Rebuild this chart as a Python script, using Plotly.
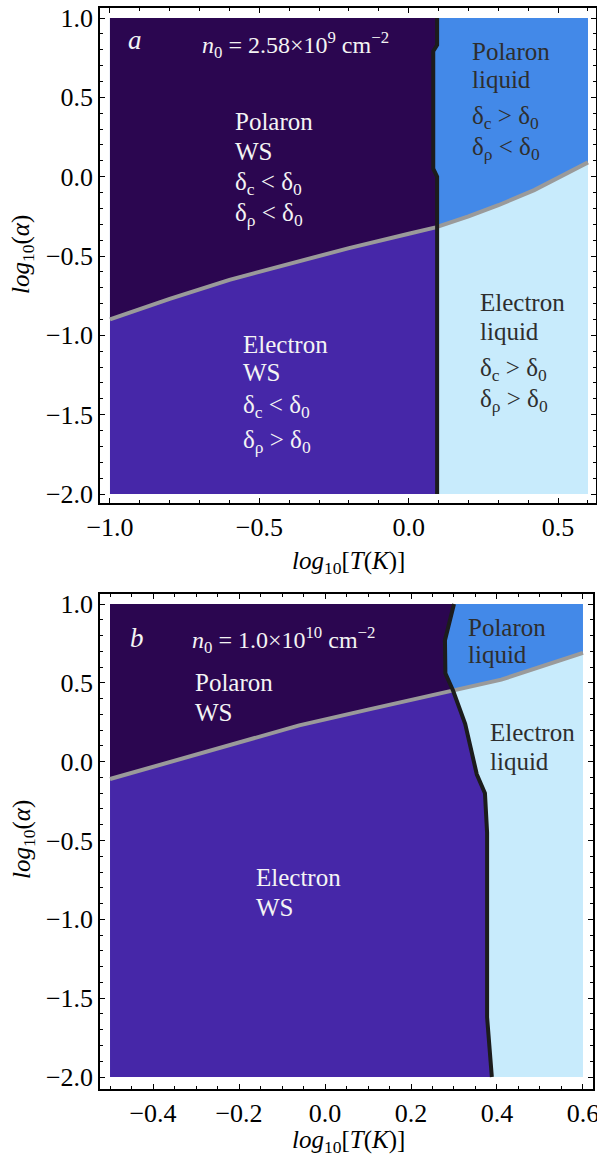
import numpy as np
import plotly.graph_objects as go

# ---------------- data ----------------
# Panel a  (n0 = 2.58e9 cm^-2)
gray_a_x = [-1.0, -0.8, -0.6, -0.4, -0.2, 0.0, 0.09, 0.2, 0.3, 0.42, 0.53, 0.6]
gray_a_y = [-0.90, -0.77, -0.65, -0.55, -0.45, -0.36, -0.32, -0.25, -0.18, -0.085, 0.02, 0.09]
black_a_y = [-2.0, 0.0, 0.05, 0.79, 0.83, 1.0]
black_a_x = [0.095, 0.095, 0.082, 0.082, 0.095, 0.095]

# Panel b  (n0 = 1.0e10 cm^-2)
gray_b_x = [-0.5, -0.41, -0.2, -0.06, 0.1, 0.3, 0.41, 0.6]
gray_b_y = [-0.11, -0.04, 0.12, 0.23, 0.33, 0.45, 0.52, 0.69]
black_b_y = [-2.0, -1.62, -0.45, -0.2, -0.08, 0.24, 0.45, 0.56, 0.77, 1.0]
black_b_x = [0.388, 0.377, 0.377, 0.372, 0.353, 0.326, 0.298, 0.28, 0.279, 0.30]

ext_a = (-1.0, 0.6, -2.0, 1.0)
ext_b = (-0.5, 0.6, -2.0, 1.0)

xticks_a = [-1.0, -0.5, 0.0, 0.5]
xticks_b = [-0.4, -0.2, 0.0, 0.2, 0.4, 0.6]
yticks = [-2.0, -1.5, -1.0, -0.5, 0.0, 0.5, 1.0]

# ---------------- style ----------------
C_PWS = "#2b0650"
C_EWS = "#4627a8"
C_PL = "#4389e8"
C_EL = "#c8ebfc"
C_GRAY = "#9a9a9a"
C_BLACK = "#1c1c1c"
FONT = "Liberation Serif"

fig = go.Figure()


def add_regions(gx, gy, bx, by, ext, xa, ya):
    xmin, xmax, ymin, ymax = ext
    xs = np.linspace(xmin, xmax, 600)
    ygs = np.interp(xs, gx, gy)
    ys = np.linspace(ymin, ymax, 600)
    xbs = np.interp(ys, by, bx)

    def poly(px, py, color):
        fig.add_trace(go.Scatter(x=list(px), y=list(py), fill="toself", fillcolor=color,
                                 mode="lines", line=dict(width=0, color=color),
                                 hoverinfo="skip", showlegend=False, xaxis=xa, yaxis=ya))

    # electron liquid: full rectangle
    poly([xmin, xmax, xmax, xmin, xmin], [ymin, ymin, ymax, ymax, ymin], C_EL)
    # polaron liquid: above gray line
    poly(list(xs) + [xmax, xmin], list(ygs) + [ymax, ymax], C_PL)
    # electron WS: left of black line
    poly([xmin] + list(xbs) + [xmin], [ymin] + list(ys) + [ymax], C_EWS)
    # polaron WS: left of black and above gray
    m1 = ys >= np.interp(xbs, gx, gy)
    bpx = xbs[m1][::-1]
    bpy = ys[m1][::-1]
    m2 = xs <= np.interp(ygs, by, bx)
    gpx = xs[m2][::-1]
    gpy = ygs[m2][::-1]
    poly([xmin] + list(bpx) + list(gpx) + [xmin], [ymax] + list(bpy) + list(gpy) + [ymax], C_PWS)


def add_lines(gx, gy, bx, by, xa, ya):
    fig.add_trace(go.Scatter(x=gx, y=gy, mode="lines", line=dict(color=C_GRAY, width=4),
                             hoverinfo="skip", showlegend=False, xaxis=xa, yaxis=ya))
    fig.add_trace(go.Scatter(x=bx, y=by, mode="lines", line=dict(color=C_BLACK, width=4),
                             hoverinfo="skip", showlegend=False, xaxis=xa, yaxis=ya))


add_regions(gray_a_x, gray_a_y, black_a_x, black_a_y, ext_a, "x", "y")
add_lines(gray_a_x, gray_a_y, black_a_x, black_a_y, "x", "y")
add_regions(gray_b_x, gray_b_y, black_b_x, black_b_y, ext_b, "x2", "y2")
add_lines(gray_b_x, gray_b_y, black_b_x, black_b_y, "x2", "y2")

W, H = 597, 1157


def px2x(p):
    return p / W


def px2y(p):
    return 1 - p / H


axis_common = dict(showline=True, mirror="ticks", linecolor="black", linewidth=1.5,
                   ticks="inside", ticklen=5, tickwidth=1, tickcolor="black",
                   showgrid=False, zeroline=False, tickformat=".1f", automargin=False,
                   ticklabeloverflow="allow",
                   tickfont=dict(family=FONT, size=26, color="black"))

fig.update_layout(
    width=W, height=H, margin=dict(l=0, r=0, t=0, b=0, autoexpand=False),
    paper_bgcolor="white", plot_bgcolor="white", showlegend=False,
    xaxis=dict(domain=[px2x(100), px2x(596)], range=[-1.0334, 0.6268], anchor="y",
               tickvals=xticks_a, minor=dict(dtick=0.1, tick0=0, ticks="inside", ticklen=3),
               **axis_common),
    yaxis=dict(domain=[px2y(503), px2y(8)], range=[-2.0567, 1.063], anchor="x",
               tickvals=yticks, minor=dict(dtick=0.1, tick0=0, ticks="inside", ticklen=3),
               **axis_common),
    xaxis2=dict(domain=[px2x(100), px2x(593)], range=[-0.5233, 0.6233], anchor="y2",
                tickvals=xticks_b, minor=dict(dtick=0.05, tick0=0, ticks="inside", ticklen=3),
                **axis_common),
    yaxis2=dict(domain=[px2y(1089), px2y(594)], range=[-2.076, 1.0634], anchor="x2",
                tickvals=yticks, minor=dict(dtick=0.1, tick0=0, ticks="inside", ticklen=3),
                **axis_common),
)

WHITE = "#f4f4f4"
DARK = "#2e2e2e"
FS = 25


def txt(x, y, s, xa, ya, color, size=FS):
    fig.add_annotation(x=x, y=y, xref=xa, yref=ya, text=s, showarrow=False,
                       xanchor="left", yanchor="middle",
                       font=dict(family=FONT, size=size, color=color))


dc_lt = "δ<sub>c</sub> &lt; δ<sub>0</sub>"
dc_gt = "δ<sub>c</sub> &gt; δ<sub>0</sub>"
dr_lt = "δ<sub>ρ</sub> &lt; δ<sub>0</sub>"
dr_gt = "δ<sub>ρ</sub> &gt; δ<sub>0</sub>"

# panel a
txt(-0.945, 0.86, "<i>a</i>", "x", "y", WHITE, 27)
txt(-0.70, 0.83, "<i>n</i><sub>0</sub> = 2.58×10<sup>9</sup> cm<sup>−2</sup>", "x", "y", WHITE, 24)
for s, yv in zip(["Polaron", "WS", dc_lt, dr_lt], [0.345, 0.156, -0.04, -0.24]):
    txt(-0.589, yv, s, "x", "y", WHITE)
for s, yv in zip(["Electron", "WS", dc_lt, dr_gt], [-1.06, -1.237, -1.45, -1.67]):
    txt(-0.562, yv, s, "x", "y", WHITE)
for s, yv in zip(["Polaron", "liquid", dc_gt, dr_lt], [0.786, 0.61, 0.37, 0.175]):
    txt(0.204, yv, s, "x", "y", DARK)
for s, yv in zip(["Electron", "liquid", dc_gt, dr_gt], [-0.796, -0.979, -1.218, -1.41]):
    txt(0.231, yv, s, "x", "y", DARK)

# panel b
txt(-0.458, 0.784, "<i>b</i>", "x2", "y2", WHITE, 27)
txt(-0.314, 0.772, "<i>n</i><sub>0</sub> = 1.0×10<sup>10</sup> cm<sup>−2</sup>", "x2", "y2", WHITE, 24)
for s, yv in zip(["Polaron", "WS"], [0.499, 0.315]):
    txt(-0.307, yv, s, "x2", "y2", WHITE)
for s, yv in zip(["Polaron", "liquid"], [0.854, 0.677]):
    txt(0.328, yv, s, "x2", "y2", DARK)
for s, yv in zip(["Electron", "liquid"], [0.182, -0.002]):
    txt(0.379, yv, s, "x2", "y2", DARK)
for s, yv in zip(["Electron", "WS"], [-0.737, -0.928]):
    txt(-0.165, yv, s, "x2", "y2", WHITE)

# axis titles
xt = "<i>log</i><sub>10</sub>[<i>T</i>(<i>K</i>)]"
yt = "<i>log</i><sub>10</sub>(<i>α</i>)"
for (cx, cy, s, ang) in [(348, 562, xt, 0), (348, 1141, xt, 0), (23, 255, yt, -90), (23, 840, yt, -90)]:
    fig.add_annotation(x=px2x(cx), y=px2y(cy), xref="paper", yref="paper", text=s,
                       showarrow=False, xanchor="center", yanchor="middle", textangle=ang,
                       font=dict(family=FONT, size=25, color="black"))

fig.write_html("out.html")
